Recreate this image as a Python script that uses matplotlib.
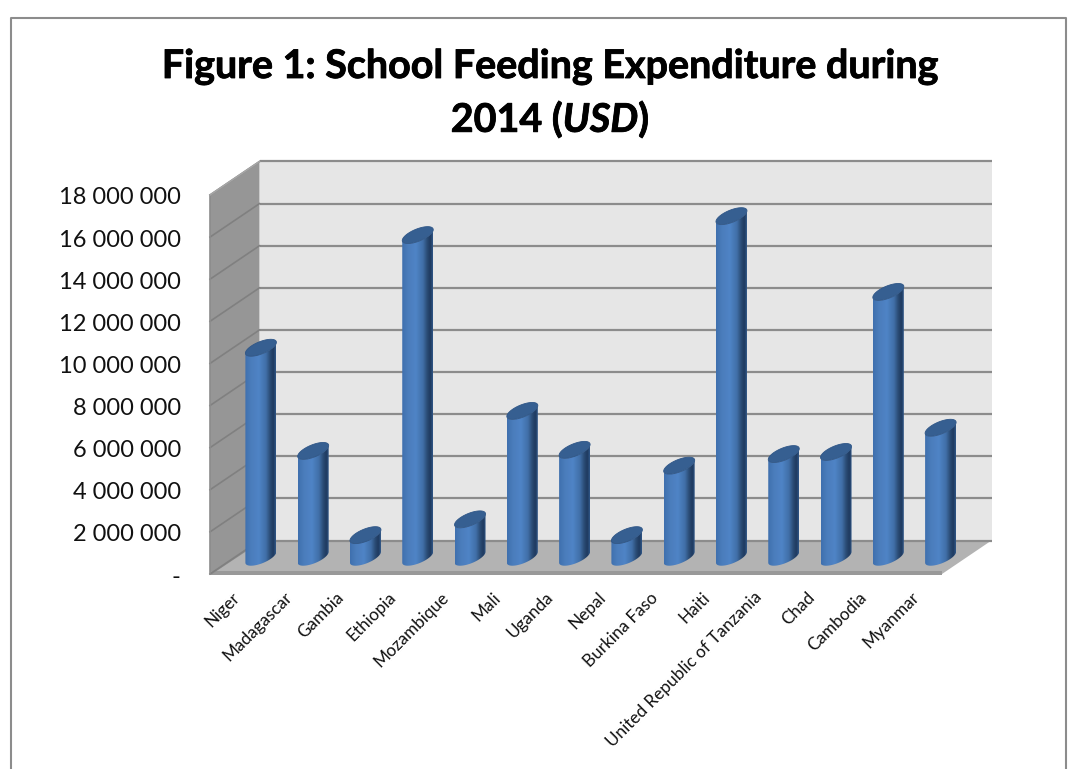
import numpy as np
import matplotlib
matplotlib.use('Agg')
import matplotlib.pyplot as plt
import matplotlib.patheffects as pe
from matplotlib.colors import LinearSegmentedColormap
from matplotlib.lines import Line2D
from matplotlib.patches import PathPatch, Polygon
from matplotlib.path import Path
from matplotlib.transforms import ScaledTranslation

plt.rcParams['font.family'] = ['Lato', 'DejaVu Sans']
plt.rcParams['mathtext.fontset'] = 'custom'
plt.rcParams['mathtext.bfit'] = 'Lato:italic:bold'

countries = ['Niger', 'Madagascar', 'Gambia', 'Ethiopia', 'Mozambique', 'Mali', 'Uganda',
             'Nepal', 'Burkina Faso', 'Haiti', 'United Republic of Tanzania', 'Chad',
             'Cambodia', 'Myanmar']
expenditure = [9950000, 5050000, 1050000, 15300000, 1800000, 6950000, 5100000,
               1050000, 4350000, 16200000, 4900000, 5000000, 12600000, 6150000]
y_ticks = [0, 2000000, 4000000, 6000000, 8000000, 10000000, 12000000, 14000000,
           16000000, 18000000]

W, H = 1076, 769
fig = plt.figure(figsize=(W / 100, H / 100), dpi=100)

# front plane of the 3d box, in pixels
left, right, top, bottom = 210, 942, 195, 574
ax = fig.add_axes([left / W, 1 - bottom / H, (right - left) / W, (bottom - top) / H])
ax.set_xlim(0, len(countries))
ax.set_ylim(0, 18000000)

# pixel sizes in data units
px_x = len(countries) / (right - left)
px_y = 18000000 / (bottom - top)
depth_x = 49.5 * px_x
depth_y = 33.5 * px_y
x_max = len(countries)
y_max = 18000000

# walls and floor
ax.add_patch(Polygon([(depth_x, depth_y), (x_max + depth_x, depth_y), (x_max + depth_x, y_max + depth_y),
                      (depth_x, y_max + depth_y)], fc='#e6e6e6', ec='none', clip_on=False, zorder=1))
ax.add_patch(Polygon([(0, 0), (depth_x, depth_y), (depth_x, y_max + depth_y), (0, y_max)],
                     fc='#969696', ec='none', clip_on=False, zorder=1))
ax.add_patch(Polygon([(0, 0), (x_max, 0), (x_max + depth_x, depth_y), (depth_x, depth_y)],
                     fc='#b3b3b3', ec='none', clip_on=False, zorder=2))
ax.add_patch(Polygon([(0, -1 * px_y), (x_max, -1 * px_y), (x_max, 3 * px_y), (0, 3 * px_y)],
                     fc='#999999', ec='none', clip_on=False, zorder=2))
ax.add_patch(Polygon([(0, 0), (depth_x, depth_y), (depth_x + 3 * px_x, depth_y), (2 * px_x, 0)],
                     fc='#8c8c8c', ec='none', clip_on=False, zorder=2))

# gridlines
for t in y_ticks:
    ax.plot([depth_x, x_max + depth_x], [t + depth_y, t + depth_y], color='#8c8c8c', lw=1.6,
            clip_on=False, zorder=2, solid_capstyle='butt')
    ax.plot([0, depth_x], [t, t + depth_y], color='#808080', lw=1.2, clip_on=False, zorder=2)
ax.plot([0, 0], [0, y_max], color='#8c8c8c', lw=1.2, clip_on=False, zorder=2)
ax.plot([0, depth_x], [y_max, y_max + depth_y], color='#a6a6a6', lw=1.2, clip_on=False, zorder=2)

shade = LinearSegmentedColormap.from_list('cyl', [(0, '#3f70ae'), (0.2, '#4b7dbc'), (0.45, '#4f84c6'),
                                                  (0.68, '#416fa8'), (0.82, '#2a4b74'),
                                                  (0.92, '#1f3a5f'), (1, '#2f5687')])
gradient = np.linspace(0, 1, 128).reshape(1, -1)

# cylinder shape in pixels: half width, ellipse half height, tilt
half_w = 15.5
half_h = 6.5
tilt = 0.35


def ellipse_arc(cx, cy, t):
    xs = cx + half_w * np.cos(t) * px_x
    ys = cy + (tilt * half_w * np.cos(t) + half_h * np.sin(t)) * px_y
    return np.column_stack([xs, ys])


for i, value in enumerate(expenditure):
    cx = i + 0.5 + depth_x / 2
    base = depth_y / 2
    z = 3 + i * 0.01
    lower = ellipse_arc(cx, base, np.linspace(np.pi, 2 * np.pi, 40))
    upper = ellipse_arc(cx, base + value, np.linspace(2 * np.pi, np.pi, 40))
    body = Path(np.vstack([lower, upper, lower[:1]]), closed=True)
    img = ax.imshow(gradient, cmap=shade, aspect='auto', zorder=z, interpolation='bilinear',
                    extent=[cx - half_w * px_x, cx + half_w * px_x, base - 20 * px_y, base + value + 20 * px_y])
    img.set_clip_box(fig.bbox)
    img.set_clip_path(PathPatch(body, transform=ax.transData))
    cap = ellipse_arc(cx, base + value, np.linspace(0, 2 * np.pi, 80))
    ax.add_patch(Polygon(cap, fc='#365f91', ec='#2f5687', lw=0.6, clip_on=False, zorder=z + 0.001))

ax.set_xlim(0, len(countries))
ax.set_ylim(0, 18000000)

ax.set_yticks(y_ticks)
ax.set_yticklabels(['-' if t == 0 else f'{t:,}'.replace(',', ' ') for t in y_ticks], fontsize=17, color='#111111')
ax.set_xticks(np.arange(len(countries)) + 0.5)
ax.set_xticklabels(countries, rotation=45, ha='right', va='top', rotation_mode='anchor', fontsize=12.3,
                   color='#111111')
ax.tick_params(axis='y', length=0, pad=21)
ax.tick_params(axis='x', length=0, pad=11)
nudge_y = ScaledTranslation(0, -1 / 100, fig.dpi_scale_trans)
nudge_x = ScaledTranslation(-5 / 100, 0, fig.dpi_scale_trans)
for label in ax.get_yticklabels():
    label.set_transform(label.get_transform() + nudge_y)
for label in ax.get_xticklabels():
    label.set_transform(label.get_transform() + nudge_x)
for s in ax.spines.values():
    s.set_visible(False)
ax.patch.set_visible(False)

stroke = [pe.withStroke(linewidth=0.6, foreground='black')]
fig.text(550 / W, 1 - 66.5 / H, 'Figure 1: School Feeding Expenditure during', ha='center', va='center',
         fontsize=28.4, fontweight='bold', color='black', path_effects=stroke)
fig.text(550 / W, 1 - 120 / H, r'2014 ($\mathbfit{USD}$)', ha='center', va='center',
         fontsize=28.4, fontweight='bold', color='black', path_effects=stroke)

# chart frame, cut off at the bottom of the page
fx = [10.5 / W, 10.5 / W, 1066 / W, 1066 / W]
fy = [0, 1 - 17.5 / H, 1 - 17.5 / H, 0]
fig.add_artist(Line2D(fx, fy, color='#8c8c8c', lw=1.5))

fig.savefig('out.png', dpi=100)
